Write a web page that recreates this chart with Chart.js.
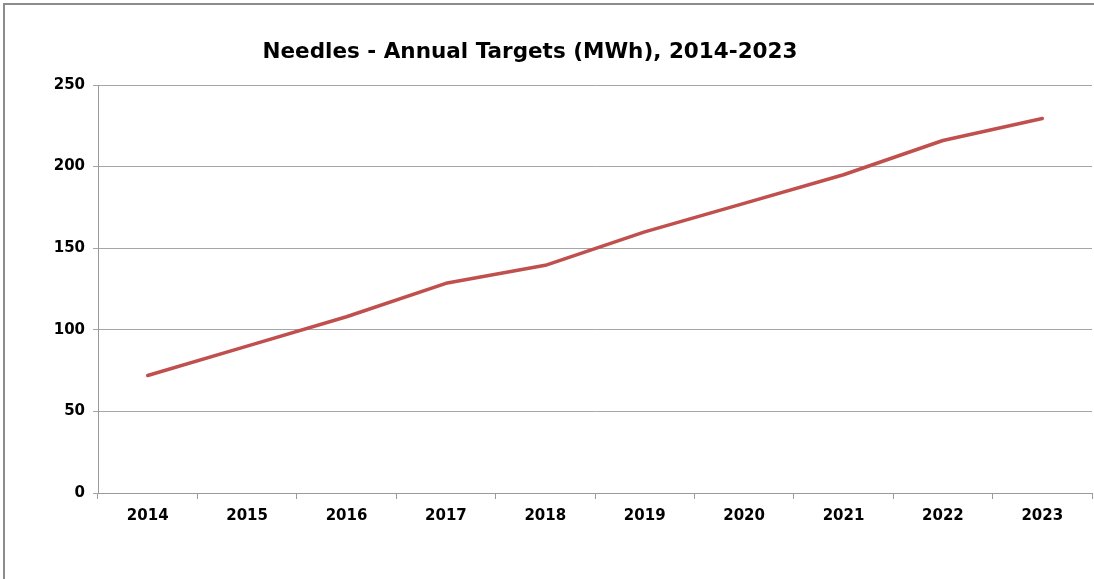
<!DOCTYPE html>
<html>
<head>
<meta charset="utf-8">
<script src="https://cdn.jsdelivr.net/npm/chart.js@4"></script>
<style>
  html, body { margin: 0; padding: 0; background: #fff; overflow: hidden; }
  .frame { position: absolute; left: 3px; top: 3px; width: 1091px; height: 576px;
           border-left: 2px solid #8c8c8c; border-top: 2px solid #8c8c8c; }
  canvas { position: absolute; left: 0; top: 0; }
</style>
</head>
<body>
<div class="frame"></div>
<canvas id="chart" width="1094" height="579"></canvas>
<script>
const years = ["2014", "2015", "2016", "2017", "2018", "2019", "2020", "2021", "2022", "2023"]
const targets = [72, 90, 108, 128.5, 139.5, 160, 177.5, 195, 216, 229.5]
const yTicks = [0, 50, 100, 150, 200, 250]
const titleText = "Needles - Annual Targets (MWh), 2014-2023"

const font = "'DejaVu Sans', Verdana, sans-serif"

// title is centred a bit left of the page, like the original workbook
const titlePlugin = {
  id: "title_at",
  afterDraw(chart) {
    const ctx = chart.ctx
    ctx.save()
    ctx.font = `bold 21.5px ${font}`
    ctx.fillStyle = "#000"
    ctx.textAlign = "center"
    ctx.textBaseline = "middle"
    ctx.fillText(titleText, 530, 52)
    ctx.restore()
  }
}

new Chart(document.getElementById("chart"), {
  type: "line",
  data: {
    labels: years,
    datasets: [{
      data: targets,
      borderColor: "#c0504d",
      borderWidth: 3.5,
      pointRadius: 0,
      tension: 0,
      borderCapStyle: "round",
      borderJoinStyle: "round",
    }]
  },
  options: {
    responsive: false,
    animation: false,
    layout: { padding: { left: 0, right: 2, top: 85, bottom: 36 } },
    plugins: { legend: { display: false }, tooltip: { enabled: false } },
    scales: {
      x: {
        offset: true,
        grid: { display: true, offset: true, drawOnChartArea: false, drawTicks: true, tickLength: 6, color: "#9a9a9a" },
        border: { color: "#9a9a9a", width: 1 },
        ticks: { color: "#000", padding: 8, font: { family: font, size: 15, weight: "bold" }, maxRotation: 0 },
        afterFit(scale) { scale.height = 50 }
      },
      y: {
        min: 0,
        max: 250,
        afterBuildTicks(scale) { scale.ticks = yTicks.map(v => ({ value: v })) },
        grid: { color: "#a6a6a6", tickLength: 5, lineWidth: 1 },
        border: { color: "#9a9a9a", width: 1 },
        ticks: { color: "#000", padding: 8, font: { family: font, size: 15, weight: "bold" } },
        afterFit(scale) { scale.width = 98 }
      }
    }
  },
  plugins: [titlePlugin]
})
</script>
</body>
</html>
